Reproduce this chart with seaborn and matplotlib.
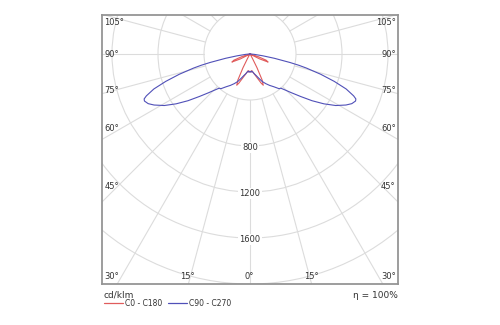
import numpy as np
import pandas as pd
import matplotlib
matplotlib.use("Agg")
import matplotlib.pyplot as plt
from matplotlib.lines import Line2D
from matplotlib.patches import Circle
import seaborn as sns

# Luminous intensity distribution (cd/klm) against gamma angle from nadir
gamma_c90 = [0, 3, 6, 9, 12, 16, 20, 24, 28, 32, 36, 40, 42, 44, 47, 50, 53, 56,
             59, 62, 64, 66, 67, 68, 70, 72, 74, 76, 77, 78, 80, 82, 85, 88, 90]
int_c90 = [150, 158, 150, 160, 175, 195, 225, 262, 292, 322, 352, 394, 400, 432,
           495, 575, 675, 775, 870, 945, 985, 1005, 1000, 972, 890, 770, 640, 505,
           435, 355, 215, 112, 40, 8, 0]

gamma_c0 = [0, 3, 6, 10, 14, 18, 21, 23, 25, 27, 29, 32, 36, 56, 60, 63, 66, 69,
            72, 75, 78, 90]
int_c0 = [150, 158, 145, 165, 192, 230, 272, 295, 250, 135, 42, 8, 0, 0, 15, 95,
          172, 150, 75, 20, 0, 0]

ring_values = [400, 800, 1200, 1600, 2000]
ring_labels = ["800", "1200", "1600"]
side_angle_labels = ["105°", "90°", "75°", "60°", "45°"]
bottom_angle_labels = ["30°", "15°", "0°", "15°", "30°"]
plane_names = ["C0 - C180", "C90 - C270"]
plane_colors = ["#e05c5c", "#5050b8"]
efficiency_text = "η = 100%"
unit_text = "cd/klm"


def plane_frame(gammas, values, name):
    g = np.radians(np.asarray(gammas, dtype=float))
    v = np.asarray(values, dtype=float)
    # left half (C180 / C270) from horizontal down to nadir, then right half back up
    xs = np.concatenate([-v[::-1] * np.sin(g[::-1]), v[1:] * np.sin(g[1:])])
    ys = np.concatenate([-v[::-1] * np.cos(g[::-1]), -v[1:] * np.cos(g[1:])])
    return pd.DataFrame({"x": xs, "y": ys, "plane": name})


df = pd.concat([plane_frame(gamma_c0, int_c0, plane_names[0]),
                plane_frame(gamma_c90, int_c90, plane_names[1])],
               ignore_index=True)

sns.set_theme(style="white")
plt.rcParams["font.family"] = ["DejaVu Sans"]

fig = plt.figure(figsize=(5.0, 3.25), dpi=100)
ax = fig.add_axes([102 / 500, 41 / 325, 296 / 500, 269 / 325])

grid_col = "#dcdcdc"
# concentric rings
for r in ring_values:
    ax.add_patch(Circle((0, 0), r, fill=False, ec=grid_col, lw=0.8, zorder=1))
# radial lines every 15 degrees, starting at the innermost ring
for a in range(0, 360, 15):
    t = np.radians(a)
    ax.plot([ring_values[0] * np.sin(t), 4000 * np.sin(t)],
            [-ring_values[0] * np.cos(t), -4000 * np.cos(t)],
            color=grid_col, lw=0.8, zorder=1)

sns.lineplot(data=df, x="x", y="y", hue="plane", palette=plane_colors,
             sort=False, estimator=None, legend=False, lw=0.8, ax=ax, zorder=3)

ax.set_xlim(-1287, 1287)
ax.set_ylim(-2000, 339)
ax.set_aspect("equal")
ax.set_xticks([])
ax.set_yticks([])
ax.set_xlabel("")
ax.set_ylabel("")
for s in ax.spines.values():
    s.set_visible(True)
    s.set_color("#959595")
    s.set_linewidth(1.3)

fs = 6
txt_col = "#333333"
for val in ring_labels:
    ax.text(0, -float(val) - 15, val, ha="center", va="center", fontsize=fs,
            color=txt_col, zorder=4,
            bbox=dict(boxstyle="square,pad=0.15", fc="white", ec="none"))

# angle labels along the side edges
side_y = [22, 54, 90, 128, 187]
for lab, py in zip(side_angle_labels, side_y):
    fy = (284 - py) / 269
    ax.text(0.008, fy, lab, transform=ax.transAxes, ha="left", va="center",
            fontsize=fs, color=txt_col)
    ax.text(0.992, fy, lab, transform=ax.transAxes, ha="right", va="center",
            fontsize=fs, color=txt_col)

# angle labels along the bottom edge
bottom_x = [104, 187, 249, 311, 396]
bottom_ha = ["left", "center", "center", "center", "right"]
for lab, px, ha in zip(bottom_angle_labels, bottom_x, bottom_ha):
    ax.text((px - 102) / 296, (284 - 277) / 269, lab, transform=ax.transAxes,
            ha=ha, va="center", fontsize=fs, color=txt_col)

fig.text(104 / 500, 1 - 295 / 325, unit_text, fontsize=6.5, color=txt_col,
         ha="left", va="center")
fig.text(398 / 500, 1 - 296 / 325, efficiency_text, fontsize=6.5,
         color=txt_col, ha="right", va="center")

handles = [Line2D([], [], color=c, lw=0.9) for c in plane_colors]
fig.legend(handles, plane_names, loc="center left",
           bbox_to_anchor=(104 / 500, 1 - 303 / 325), ncol=2, frameon=False,
           fontsize=5.5, handlelength=2.5, handletextpad=0.25, columnspacing=0.8,
           borderaxespad=0, borderpad=0, labelcolor=txt_col)

fig.savefig("out.png", dpi=100, facecolor="white")
